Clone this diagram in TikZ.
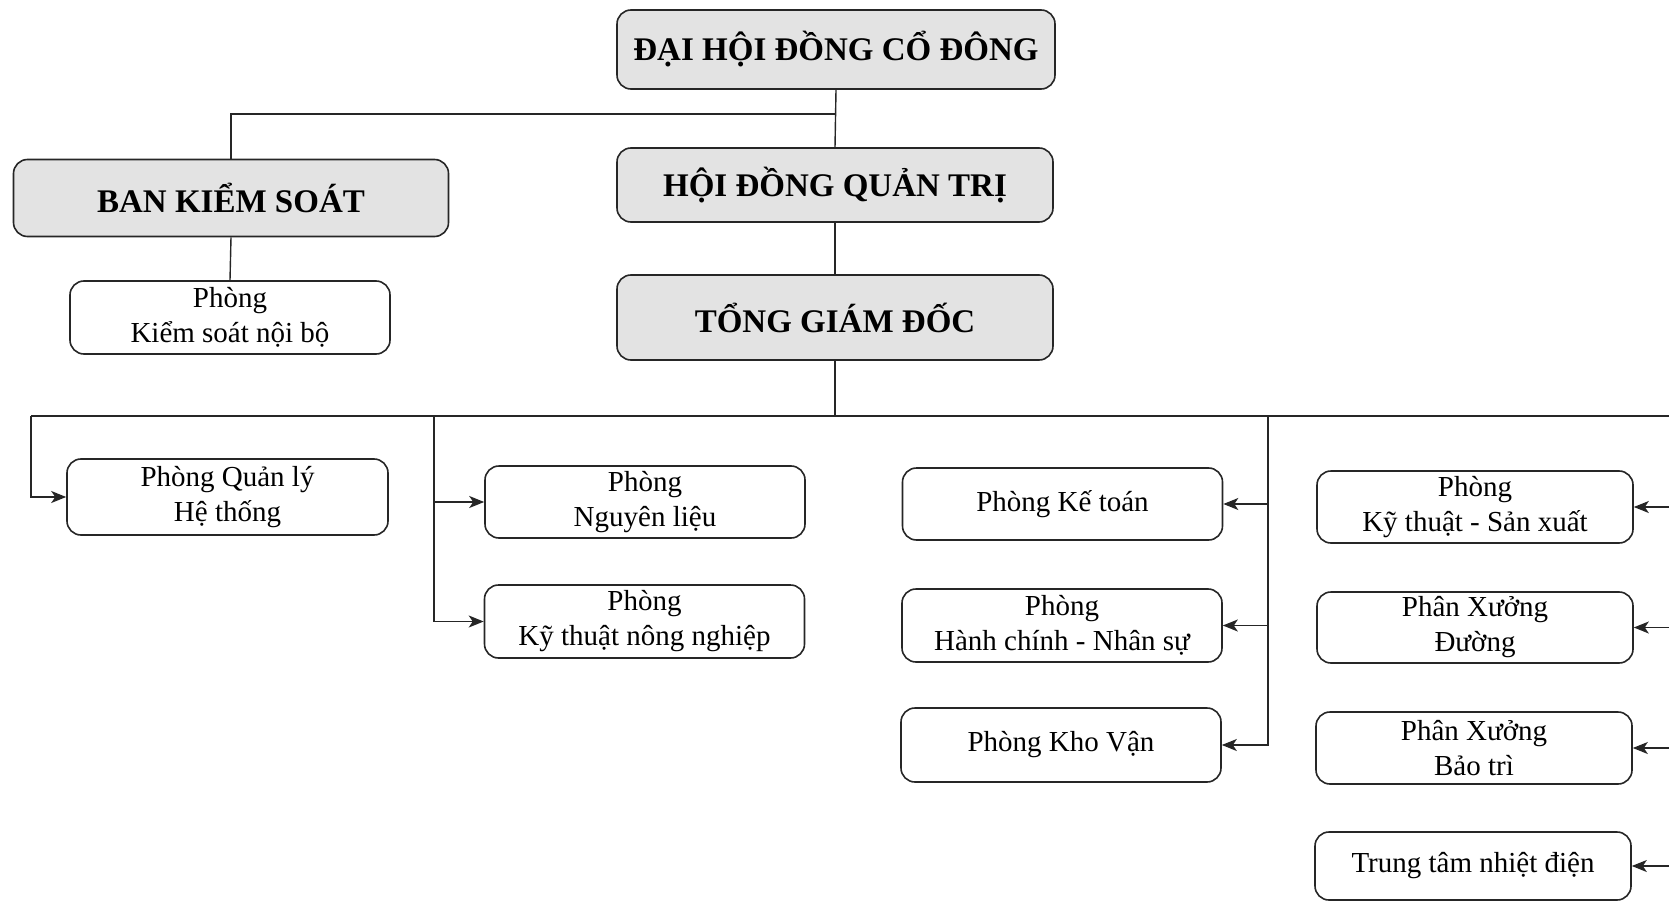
\documentclass[tikz,border=0pt]{standalone}
\usepackage{fontspec}
\setmainfont{Liberation Serif}
\usetikzlibrary{arrows.meta}
\tikzset{
  box/.style={draw=black!85, line width=1.6pt, rounded corners=14pt, align=center,
    inner sep=0pt, font=\fontsize{29}{35}\selectfont},
  sbox/.style={box, minimum width=320pt, minimum height=73pt},
  head/.style={box, fill=gray!22, font=\fontsize{33}{40}\selectfont\bfseries},
  conn/.style={line width=1.4pt, draw=black!85},
  arr/.style={conn, -{Stealth[length=15pt,width=12pt,inset=4pt]}},
}
\begin{document}
\begin{tikzpicture}[x=1pt,y=-1pt]
\useasboundingbox (0,0) rectangle (1669,901);
\clip (0,0) rectangle (1669,901);

% top level
\node[head, minimum width=438pt, minimum height=79pt] (dhdcd) at (836,49.5) {ĐẠI HỘI ĐỒNG CỔ ĐÔNG};
\node[head, minimum width=435pt, minimum height=77pt] (bks) at (231,198) {BAN KIỂM SOÁT};
\node[sbox] (pksnb) at (230,317.5) {Phòng\\Kiểm soát nội bộ};
\node[head, minimum width=436pt, minimum height=74pt] (hdqt) at (835,185) {HỘI ĐỒNG QUẢN TRỊ};
\node[head, minimum width=436pt, minimum height=85pt] (tgd) at (835,317.5) {TỔNG GIÁM ĐỐC};

% departments
\node[sbox, minimum width=321pt, minimum height=76pt] (qlht) at (227.5,497) {Phòng Quản lý\\Hệ thống};
\node[sbox, minimum height=72pt] (ngl) at (645,502) {Phòng\\Nguyên liệu};
\node[sbox] (ktnn) at (644.5,621.5) {Phòng\\Kỹ thuật nông nghiệp};
\node[sbox, minimum height=72pt] (kt) at (1062.5,504) {Phòng Kế toán};
\node[sbox] (hcns) at (1062,625.5) {Phòng\\Hành chính - Nhân sự};
\node[sbox, minimum height=74pt] (kv) at (1061,745) {Phòng Kho Vận};
\node[sbox, minimum width=316pt, minimum height=72pt] (ktsx) at (1475,507) {Phòng\\Kỹ thuật - Sản xuất};
\node[sbox, minimum width=316pt, minimum height=71pt] (pxd) at (1475,627.5) {Phân Xưởng\\Đường};
\node[sbox, minimum width=316pt, minimum height=72pt] (pxbt) at (1474,748) {Phân Xưởng\\Bảo trì};
\node[sbox, minimum width=316pt, minimum height=68pt] (ttnd) at (1473,866) {Trung tâm nhiệt điện};

% upper connectors
\coordinate (top) at (836,114);
\draw[conn] (dhdcd.south) -- (hdqt.north);
\draw[conn] (top) -| (bks.north);
\draw[conn] (bks.south) -- (pksnb.north);
\draw[conn] (hdqt.south) -- (tgd.north);

% bus
\coordinate (busL) at (31,416);
\coordinate (c2) at (434,416);
\coordinate (c3) at (1268,416);
\coordinate (c4) at (1672,416);
\draw[conn] (busL) -- (c4);
\draw[conn] (tgd.south) -- (tgd.south |- busL);

% branches
\draw[arr] (busL) |- (qlht.west);
\draw[arr] (c2) |- (ngl.west);
\draw[arr] (c2) |- (ktnn.west);
\draw[arr] (c3) |- (kt.east);
\draw[arr] (c3) |- (hcns.east);
\draw[arr] (c3) |- (kv.east);
\draw[arr] (c4) |- (ktsx.east);
\draw[arr] (c4) |- (pxd.east);
\draw[arr] (c4) |- (pxbt.east);
\draw[arr] (c4) |- (ttnd.east);
\end{tikzpicture}
\end{document}
